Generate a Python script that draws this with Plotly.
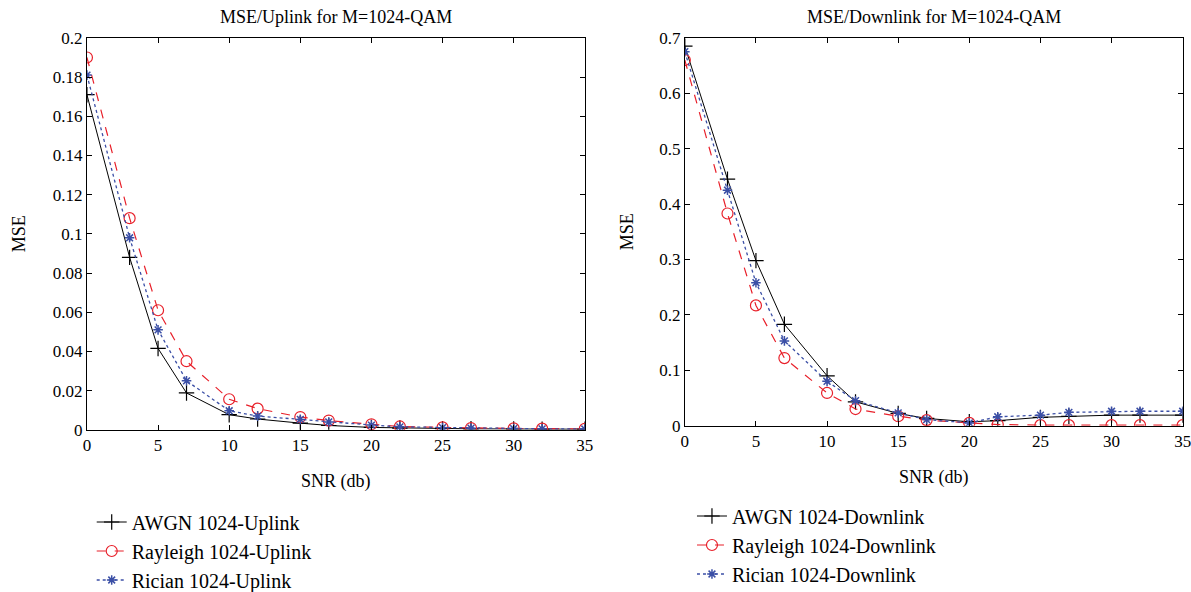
import plotly.graph_objects as go

snr = [0, 3, 5, 7, 10, 12, 15, 17, 20, 22, 25, 27, 30, 32, 35]

up_awgn = [0.171, 0.088, 0.0415, 0.0188, 0.0077, 0.0055, 0.0034, 0.0022, 0.0012, 0.0009, 0.0006, 0.0005, 0.0004, 0.0003, 0.0003]
up_rayleigh = [0.190, 0.108, 0.061, 0.035, 0.0156, 0.0108, 0.0065, 0.0047, 0.0028, 0.0017, 0.0012, 0.0009, 0.0007, 0.0006, 0.0005]
up_rician = [0.181, 0.098, 0.051, 0.025, 0.0097, 0.007, 0.0053, 0.004, 0.0024, 0.0015, 0.0011, 0.0008, 0.0006, 0.0005, 0.0004]

dn_awgn = [0.685, 0.445, 0.298, 0.183, 0.090, 0.043, 0.022, 0.013, 0.007, 0.009, 0.015, 0.017, 0.019, 0.019, 0.019]
dn_rayleigh = [0.660, 0.383, 0.217, 0.122, 0.059, 0.030, 0.017, 0.010, 0.005, 0.002, 0.001, 0.001, 0.001, 0.001, 0.001]
dn_rician = [0.675, 0.425, 0.258, 0.153, 0.080, 0.045, 0.023, 0.011, 0.005, 0.016, 0.019, 0.024, 0.026, 0.026, 0.026]

up_names = ["AWGN 1024-Uplink", "Rayleigh 1024-Uplink", "Rician 1024-Uplink"]
dn_names = ["AWGN 1024-Downlink", "Rayleigh 1024-Downlink", "Rician 1024-Downlink"]

BLUE = "#3b4fa6"
FONT = "Liberation Serif"

styles = [
    dict(line=dict(color="black", width=1, dash="solid"),
         marker=dict(symbol="cross-thin-open", size=11, color="black", line=dict(color="black", width=1.2))),
    dict(line=dict(color="#e8202a", width=1.2, dash="dash"),
         marker=dict(symbol="circle-open", size=11, color="#e8202a", line=dict(color="#e8202a", width=1.2))),
    dict(line=dict(color=BLUE, width=1.3, dash="dot"),
         marker=dict(symbol="asterisk-open", size=8, color=BLUE, line=dict(color=BLUE, width=1.5))),
]

fig = go.Figure()
for ys, nm, st in zip([up_awgn, up_rayleigh, up_rician], up_names, styles):
    fig.add_trace(go.Scatter(x=snr, y=ys, name=nm, mode="lines+markers",
                             xaxis="x", yaxis="y", legend="legend", **st))
for ys, nm, st in zip([dn_awgn, dn_rayleigh, dn_rician], dn_names, styles):
    fig.add_trace(go.Scatter(x=snr, y=ys, name=nm, mode="lines+markers",
                             xaxis="x2", yaxis="y2", legend="legend2", **st))

axis_common = dict(showline=True, linecolor="black", linewidth=1, mirror="ticks",
                   ticks="inside", ticklen=5, tickcolor="black", showgrid=False,
                   zeroline=False, ticklabeloverflow="allow",
                   tickfont=dict(family=FONT, size=17, color="black"))

TF = dict(family=FONT, size=18)
H = 592.0

fig.update_layout(
    width=1191, height=592,
    margin=dict(l=0, r=0, t=0, b=0, autoexpand=False),
    paper_bgcolor="white", plot_bgcolor="white",
    font=dict(family=FONT, color="black"),
    xaxis=dict(domain=[0.073, 0.491], range=[0, 35], dtick=5, anchor="y",
               title=dict(text="SNR (db)", font=TF, standoff=20), **axis_common),
    yaxis=dict(domain=[0.274, 0.936], range=[0, 0.2], dtick=0.02, anchor="x",
               tickformat="~g",
               title=dict(text="MSE", font=TF, standoff=22), **axis_common),
    xaxis2=dict(domain=[0.575, 0.993], range=[0, 35], dtick=5, anchor="y2",
                title=dict(text="SNR (db)", font=TF, standoff=20), **axis_common),
    yaxis2=dict(domain=[0.281, 0.936], range=[0, 0.7], dtick=0.1, anchor="x2",
                tickformat="~g",
                title=dict(text="MSE", font=TF, standoff=20), **axis_common),
    legend=dict(x=0.077, y=1 - 551 / H, xanchor="left", yanchor="middle", bgcolor="rgba(0,0,0,0)",
                font=dict(family=FONT, size=20), tracegroupgap=0, itemsizing="trace"),
    legend2=dict(x=0.581, y=1 - 545 / H, xanchor="left", yanchor="middle", bgcolor="rgba(0,0,0,0)",
                 font=dict(family=FONT, size=20), tracegroupgap=0, itemsizing="trace"),
    annotations=[
        dict(text="MSE/Uplink for M=1024-QAM", x=0.282, y=1 - 17 / H, xref="paper", yref="paper",
             xanchor="center", yanchor="middle", showarrow=False, font=TF),
        dict(text="MSE/Downlink for M=1024-QAM", x=0.784, y=1 - 17 / H, xref="paper", yref="paper",
             xanchor="center", yanchor="middle", showarrow=False, font=TF),
    ],
)

fig.write_html("out.html")
